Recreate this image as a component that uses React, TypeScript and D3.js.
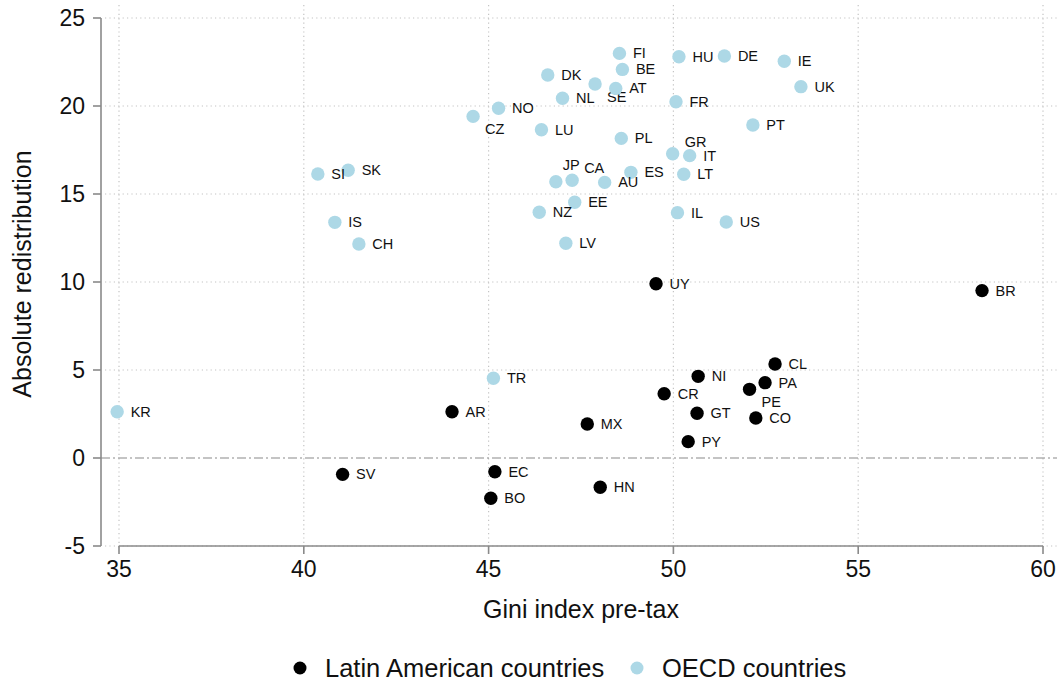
import React from "react";
import * as d3 from "d3";

// ---- Data ----
const latinCodes = ["UY", "BR", "CL", "NI", "PA", "PE", "CR", "GT", "CO", "MX", "PY", "HN", "AR", "SV", "EC", "BO"];
const latinGini = [49.53, 58.35, 52.75, 50.67, 52.48, 52.06, 49.75, 50.64, 52.23, 47.67, 50.40, 48.02, 44.01, 41.05, 45.17, 45.06];
const latinRedis = [9.9, 9.51, 5.34, 4.64, 4.28, 3.9, 3.65, 2.54, 2.27, 1.93, 0.93, -1.66, 2.63, -0.93, -0.78, -2.29];

const oecdCodes = ["FI", "HU", "DE", "IE", "BE", "DK", "SE", "AT", "UK", "NL", "NO", "FR", "CZ", "LU", "PT", "PL", "GR", "IT", "SK", "SI", "LT", "ES", "JP", "CA", "AU", "EE", "NZ", "IL", "US", "IS", "CH", "LV", "TR", "KR"];
const oecdGini = [48.54, 50.15, 51.38, 53.0, 48.62, 46.6, 47.88, 48.44, 53.45, 47.0, 45.27, 50.07, 44.58, 46.43, 52.15, 48.59, 49.98, 50.44, 41.2, 40.38, 50.28, 48.85, 46.82, 47.26, 48.14, 47.33, 46.37, 50.11, 51.43, 40.84, 41.49, 47.09, 45.13, 34.95];
const oecdRedis = [22.99, 22.8, 22.84, 22.54, 22.08, 21.76, 21.25, 21.0, 21.1, 20.44, 19.87, 20.24, 19.41, 18.65, 18.92, 18.16, 17.29, 17.18, 16.35, 16.14, 16.12, 16.23, 15.7, 15.78, 15.66, 14.53, 13.96, 13.94, 13.41, 13.39, 12.16, 12.2, 4.53, 2.63];

// marker label clock positions (default 3 o'clock)
const labelClock: Record<string, number> = { CZ: 4, SE: 4, PE: 4, CA: 2, GR: 2, JP: 1 };

const xTicks = [35, 40, 45, 50, 55, 60];
const yTicks = [-5, 0, 5, 10, 15, 20, 25];

const xTitle = "Gini index pre-tax";
const yTitle = "Absolute redistribution";
const legendItems = ["Latin American countries", "OECD countries"];

const W = 1060;
const H = 683;
const FONT = "Arial, 'Liberation Sans', Helvetica, sans-serif";
const OECD_COLOR = "#add8e6";
const LATIN_COLOR = "#000000";
const AXIS_COLOR = "#8a8a8a";
const GRID_COLOR = "#c4c4c4";

const x = d3.scaleLinear().domain([35, 60]).range([119, 1043]);
const y = d3.scaleLinear().domain([-5, 25]).range([546, 18]);

const plotLeft = 105;
const plotRight = 1057;
const plotTop = 5;
const plotBottom = 550;

function labelOffset(code: string): { dx: number; dy: number } {
  const c = labelClock[code] ?? 3;
  if (c === 4) return { dx: 12, dy: 13 };
  if (c === 2) return { dx: 12, dy: -12 };
  if (c === 1) return { dx: 7, dy: -17 };
  return { dx: 13.5, dy: 0 };
}

function Series({ codes, xs, ys, color }: { codes: string[]; xs: number[]; ys: number[]; color: string }) {
  return (
    <g>
      {codes.map((c, i) => {
        const cx = x(xs[i]);
        const cy = y(ys[i]);
        const o = labelOffset(c);
        return (
          <g key={c}>
            <circle cx={cx} cy={cy} r={6.7} fill={color} />
            <text
              x={cx + o.dx}
              y={cy + o.dy}
              dy="0.35em"
              fontSize={14.5}
              fill="#111"
              fontFamily={FONT}
            >
              {c}
            </text>
          </g>
        );
      })}
    </g>
  );
}

export default function App() {
  const axisY = 546;
  const axisX = 101;
  return (
    <svg width={W} height={H} style={{ display: "block", position: "absolute", left: 0, top: 0, background: "#fff" }}>
      <rect x={0} y={0} width={W} height={H} fill="#fff" />
      {/* grid */}
      <g stroke={GRID_COLOR} strokeWidth={1.2} strokeDasharray="1.2 3.2">
        {xTicks.map((t) => (
          <line key={"gx" + t} x1={x(t)} x2={x(t)} y1={plotTop} y2={plotBottom} />
        ))}
        {yTicks.filter((t) => t !== 0).map((t) => (
          <line key={"gy" + t} x1={plotLeft} x2={plotRight} y1={y(t)} y2={y(t)} />
        ))}
      </g>
      {/* zero line, dash-dot */}
      <line
        x1={axisX}
        x2={plotRight}
        y1={y(0)}
        y2={y(0)}
        stroke="#8a8a8a"
        strokeWidth={1.2}
        strokeDasharray="9 3 2 3"
      />
      {/* axes */}
      <g stroke={AXIS_COLOR} strokeWidth={1.6} fill="none">
        <line x1={axisX} x2={axisX} y1={y(25)} y2={y(-5)} />
        {yTicks.map((t) => (
          <line key={"yt" + t} x1={axisX - 8} x2={axisX} y1={y(t)} y2={y(t)} />
        ))}
        <line x1={x(35)} x2={x(60)} y1={axisY} y2={axisY} />
        {xTicks.map((t) => (
          <line key={"xt" + t} x1={x(t)} x2={x(t)} y1={axisY} y2={axisY + 8} />
        ))}
      </g>
      {/* tick labels */}
      <g fontFamily={FONT} fontSize={23} fill="#111">
        {yTicks.map((t) => (
          <text key={"yl" + t} x={axisX - 16} y={y(t)} dy="0.36em" textAnchor="end">
            {t}
          </text>
        ))}
        {xTicks.map((t) => (
          <text key={"xl" + t} x={x(t)} y={569} dy="0.36em" textAnchor="middle">
            {t}
          </text>
        ))}
      </g>
      {/* axis titles */}
      <text x={x(47.5)} y={609} dy="0.36em" textAnchor="middle" fontFamily={FONT} fontSize={25} fill="#111">
        {xTitle}
      </text>
      <text
        transform={`translate(22, 274) rotate(-90)`}
        dy="0.36em"
        textAnchor="middle"
        fontFamily={FONT}
        fontSize={25}
        fill="#111"
      >
        {yTitle}
      </text>
      {/* points */}
      <Series codes={latinCodes} xs={latinGini} ys={latinRedis} color={LATIN_COLOR} />
      <Series codes={oecdCodes} xs={oecdGini} ys={oecdRedis} color={OECD_COLOR} />
      {/* legend */}
      <g fontFamily={FONT} fontSize={25.5} fill="#111">
        <circle cx={300} cy={668} r={6.5} fill={LATIN_COLOR} />
        <text x={325} y={668} dy="0.36em">{legendItems[0]}</text>
        <circle cx={637} cy={668} r={6.5} fill={OECD_COLOR} />
        <text x={662} y={668} dy="0.36em">{legendItems[1]}</text>
      </g>
    </svg>
  );
}
